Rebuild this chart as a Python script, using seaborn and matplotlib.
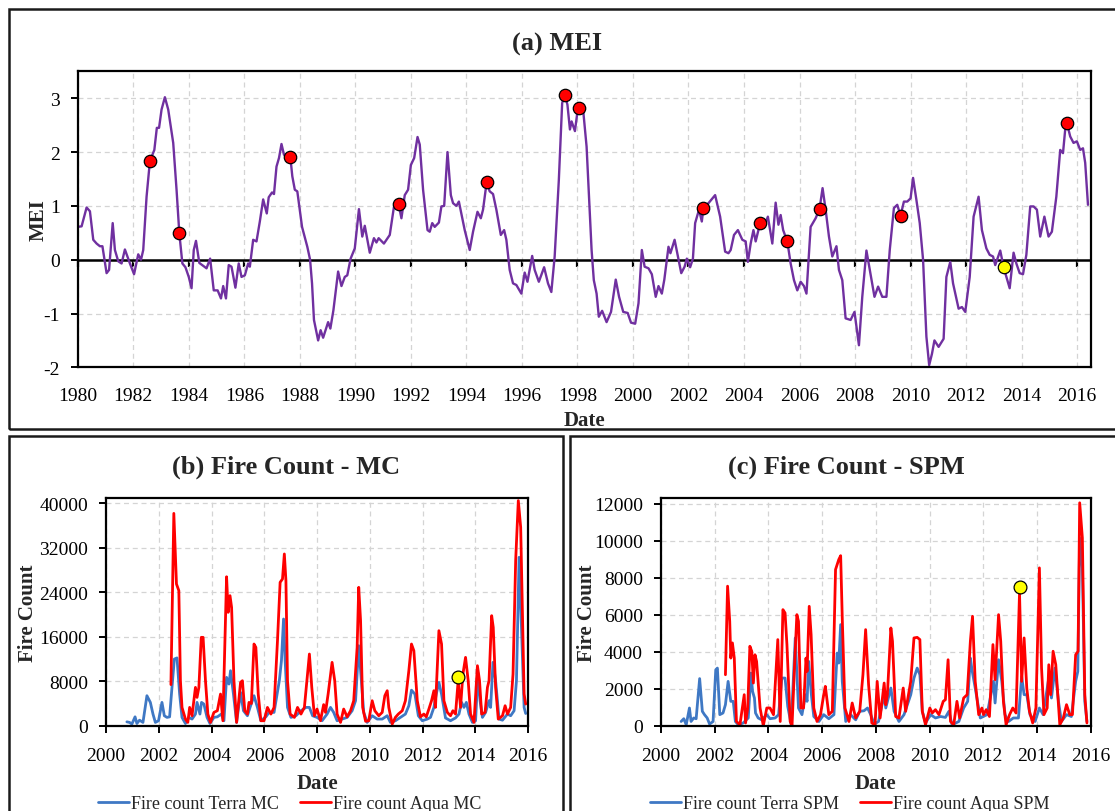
import numpy as np
import matplotlib
matplotlib.use('Agg')
import matplotlib.pyplot as plt
from matplotlib.patches import Rectangle
import seaborn as sns

# ============================================================================
# DATA
# ============================================================================

# (a) Multivariate ENSO Index
mei_year = [
    1980.00, 1980.14, 1980.32, 1980.44, 1980.56, 1980.68, 1980.80, 1980.89, 1981.04, 1981.13,
    1981.26, 1981.34, 1981.46, 1981.58, 1981.70, 1981.88, 1982.03, 1982.18, 1982.28, 1982.36,
    1982.48, 1982.60, 1982.76, 1982.85, 1982.93, 1983.02, 1983.14, 1983.26, 1983.44, 1983.56,
    1983.66, 1983.77, 1983.88, 1984.00, 1984.10, 1984.18, 1984.26, 1984.38, 1984.56, 1984.64,
    1984.77, 1984.90, 1985.04, 1985.16, 1985.24, 1985.34, 1985.44, 1985.54, 1985.68, 1985.80,
    1985.90, 1986.02, 1986.14, 1986.20, 1986.32, 1986.44, 1986.56, 1986.68, 1986.81, 1986.88,
    1987.00, 1987.07, 1987.16, 1987.25, 1987.34, 1987.43, 1987.55, 1987.66, 1987.73, 1987.82,
    1987.91, 1988.08, 1988.27, 1988.37, 1988.44, 1988.51, 1988.66, 1988.75, 1988.84, 1989.02,
    1989.10, 1989.21, 1989.38, 1989.50, 1989.62, 1989.71, 1989.83, 1989.98, 1990.13, 1990.25,
    1990.34, 1990.52, 1990.67, 1990.76, 1990.84, 1991.03, 1991.24, 1991.39, 1991.56, 1991.66,
    1991.78, 1991.90, 1992.00, 1992.12, 1992.24, 1992.32, 1992.44, 1992.60, 1992.68, 1992.77,
    1992.86, 1993.01, 1993.10, 1993.20, 1993.32, 1993.44, 1993.52, 1993.64, 1993.73, 1993.94,
    1994.12, 1994.24, 1994.40, 1994.52, 1994.60, 1994.73, 1994.84, 1994.96, 1995.08, 1995.24,
    1995.36, 1995.44, 1995.56, 1995.68, 1995.80, 1995.98, 1996.10, 1996.20, 1996.37, 1996.46,
    1996.61, 1996.80, 1996.94, 1997.06, 1997.18, 1997.33, 1997.45, 1997.55, 1997.64, 1997.73,
    1997.79, 1997.91, 1998.01, 1998.07, 1998.21, 1998.33, 1998.51, 1998.59, 1998.69, 1998.77,
    1998.89, 1999.05, 1999.21, 1999.38, 1999.50, 1999.65, 1999.81, 1999.93, 2000.08, 2000.20,
    2000.32, 2000.42, 2000.56, 2000.68, 2000.82, 2000.92, 2001.04, 2001.13, 2001.28, 2001.35,
    2001.50, 2001.62, 2001.74, 2001.86, 2001.94, 2002.06, 2002.16, 2002.24, 2002.38, 2002.48,
    2002.54, 2002.72, 2002.96, 2003.14, 2003.32, 2003.44, 2003.52, 2003.64, 2003.78, 2003.94,
    2004.06, 2004.14, 2004.24, 2004.34, 2004.42, 2004.58, 2004.72, 2004.86, 2005.02, 2005.14,
    2005.24, 2005.32, 2005.41, 2005.56, 2005.68, 2005.80, 2005.92, 2006.04, 2006.16, 2006.25,
    2006.40, 2006.58, 2006.72, 2006.83, 2006.94, 2007.06, 2007.18, 2007.33, 2007.42, 2007.54,
    2007.66, 2007.84, 2007.98, 2008.14, 2008.26, 2008.41, 2008.53, 2008.70, 2008.83, 2008.98,
    2009.13, 2009.25, 2009.40, 2009.52, 2009.64, 2009.76, 2009.88, 2010.00, 2010.09, 2010.21,
    2010.33, 2010.45, 2010.57, 2010.67, 2010.77, 2010.86, 2011.01, 2011.19, 2011.29, 2011.43,
    2011.53, 2011.73, 2011.85, 2011.97, 2012.13, 2012.27, 2012.45, 2012.57, 2012.73, 2012.85,
    2012.97, 2013.05, 2013.23, 2013.35, 2013.45, 2013.57, 2013.71, 2013.81, 2013.93, 2014.05,
    2014.17, 2014.31, 2014.43, 2014.55, 2014.67, 2014.82, 2014.97, 2015.09, 2015.25, 2015.39,
    2015.49, 2015.57, 2015.63, 2015.75, 2015.87, 2015.99, 2016.11, 2016.21, 2016.29, 2016.39,
]
mei_value = [
    0.61, 0.62, 0.97, 0.90, 0.37, 0.30, 0.25, 0.25, -0.25, -0.19,
    0.68, 0.18, -0.03, -0.07, 0.19, -0.07, -0.27, 0.10, 0.00, 0.18,
    1.17, 1.83, 2.04, 2.45, 2.45, 2.79, 3.02, 2.79, 2.17, 1.30,
    0.49, -0.07, -0.14, -0.32, -0.53, 0.18, 0.35, -0.06, -0.13, -0.16,
    0.02, -0.57, -0.57, -0.72, -0.49, -0.72, -0.10, -0.13, -0.52, -0.07,
    -0.32, -0.29, -0.07, -0.13, 0.37, 0.34, 0.71, 1.12, 0.86, 1.16,
    1.25, 1.22, 1.73, 1.89, 2.15, 1.95, 1.91, 1.90, 1.55, 1.30,
    1.27, 0.61, 0.24, 0.00, -0.44, -1.12, -1.50, -1.31, -1.45, -1.16,
    -1.28, -0.94, -0.22, -0.49, -0.32, -0.29, 0.02, 0.21, 0.94, 0.43,
    0.63, 0.13, 0.40, 0.32, 0.40, 0.30, 0.46, 0.98, 1.03, 0.77,
    1.20, 1.30, 1.76, 1.89, 2.28, 2.14, 1.30, 0.55, 0.52, 0.68,
    0.61, 0.69, 0.99, 1.00, 2.00, 1.20, 1.05, 1.00, 1.08, 0.55,
    0.18, 0.52, 0.89, 0.77, 0.93, 1.44, 1.27, 1.22, 0.93, 0.46,
    0.55, 0.37, -0.19, -0.44, -0.47, -0.63, -0.24, -0.41, 0.07, -0.19,
    -0.41, -0.14, -0.44, -0.60, 0.06, 1.48, 2.91, 3.06, 2.88, 2.42,
    2.57, 2.39, 2.79, 2.81, 2.76, 2.10, 0.18, -0.38, -0.63, -1.06,
    -0.95, -1.16, -0.97, -0.37, -0.69, -0.97, -0.99, -1.17, -1.19, -0.81,
    0.18, -0.13, -0.16, -0.27, -0.69, -0.49, -0.63, -0.37, 0.24, 0.12,
    0.37, 0.06, -0.25, -0.13, 0.02, -0.14, 0.02, 0.68, 0.93, 0.71,
    0.96, 1.05, 1.20, 0.80, 0.15, 0.12, 0.18, 0.46, 0.55, 0.37,
    0.34, -0.04, 0.30, 0.55, 0.34, 0.68, 0.61, 0.80, 0.30, 1.06,
    0.65, 0.83, 0.55, 0.34, -0.07, -0.38, -0.57, -0.41, -0.49, -0.63,
    0.61, 0.77, 0.94, 1.33, 0.93, 0.43, 0.06, 0.25, -0.19, -0.38,
    -1.09, -1.12, -0.97, -1.59, -0.69, 0.17, -0.19, -0.69, -0.50, -0.69,
    -0.69, 0.18, 0.96, 1.02, 0.82, 1.08, 1.08, 1.14, 1.52, 1.11,
    0.68, 0.00, -1.43, -1.96, -1.75, -1.50, -1.62, -1.47, -0.32, -0.04,
    -0.44, -0.91, -0.88, -0.97, -0.32, 0.80, 1.17, 0.55, 0.21, 0.09,
    0.06, -0.10, 0.17, -0.14, -0.32, -0.53, 0.13, -0.07, -0.25, -0.27,
    0.09, 0.99, 0.99, 0.93, 0.43, 0.80, 0.43, 0.52, 1.17, 2.04,
    1.98, 2.42, 2.54, 2.29, 2.17, 2.20, 2.04, 2.07, 1.80, 1.02,
]
mei_red_year = [1982.60, 1983.66, 1987.66, 1991.56, 1994.74, 1997.55, 1998.07,
                2002.54, 2004.58, 2005.56, 2006.72, 2009.64, 2015.63]
mei_red_value = [1.83, 0.49, 1.90, 1.03, 1.44, 3.06, 2.81,
                 0.96, 0.68, 0.34, 0.94, 0.82, 2.54]
mei_yellow_year = [2013.35]
mei_yellow_value = [-0.14]

# (b) Fire count - MC
mc_terra_year = [
    2000.79, 2000.89, 2000.98, 2001.10, 2001.17, 2001.27, 2001.40, 2001.55, 2001.68, 2001.78,
    2001.87, 2001.99, 2002.12, 2002.21, 2002.31, 2002.41, 2002.50, 2002.59, 2002.69, 2002.79,
    2002.88, 2003.01, 2003.14, 2003.26, 2003.39, 2003.45, 2003.56, 2003.62, 2003.71, 2003.83,
    2003.94, 2004.09, 2004.22, 2004.37, 2004.47, 2004.57, 2004.66, 2004.72, 2004.83, 2004.95,
    2005.10, 2005.21, 2005.36, 2005.46, 2005.61, 2005.74, 2005.87, 2006.06, 2006.18, 2006.37,
    2006.57, 2006.65, 2006.73, 2006.79, 2006.88, 2007.01, 2007.20, 2007.39, 2007.58, 2007.71,
    2007.83, 2008.00, 2008.19, 2008.38, 2008.51, 2008.63, 2008.76, 2008.95, 2009.14, 2009.33,
    2009.46, 2009.58, 2009.68, 2009.77, 2009.90, 2010.09, 2010.28, 2010.47, 2010.66, 2010.78,
    2010.97, 2011.16, 2011.35, 2011.48, 2011.58, 2011.71, 2011.84, 2011.99, 2012.18, 2012.30,
    2012.43, 2012.52, 2012.62, 2012.72, 2012.87, 2013.06, 2013.25, 2013.38, 2013.48, 2013.57,
    2013.66, 2013.76, 2013.89, 2014.01, 2014.10, 2014.18, 2014.27, 2014.39, 2014.52, 2014.58,
    2014.67, 2014.77, 2014.90, 2015.03, 2015.22, 2015.34, 2015.47, 2015.56, 2015.66, 2015.75,
    2015.85, 2015.91,
]
mc_terra = [
    700, 600, 300, 1600, 400, 1000, 600, 5400, 4200, 2100,
    600, 900, 4200, 1800, 1500, 1600, 6900, 12000, 12200, 5700,
    1500, 400, 1500, 1200, 2100, 4200, 2100, 4200, 3900, 1500,
    400, 1500, 1600, 2100, 900, 8700, 7500, 9900, 5700, 600,
    6000, 2700, 1800, 3300, 5400, 3300, 900, 1600, 2400, 2400,
    8100, 11700, 19200, 11700, 3300, 1500, 1800, 2700, 3300, 3300,
    1800, 1500, 900, 2100, 3300, 2400, 900, 1200, 1500, 2700,
    4500, 14400, 8100, 2400, 600, 1800, 1200, 1200, 1800, 600,
    900, 1500, 2100, 3600, 6400, 5700, 1800, 900, 1200, 1500,
    3300, 5700, 7800, 5700, 1400, 900, 1400, 2100, 4200, 3300,
    4200, 2100, 600, 900, 9500, 4500, 1500, 2400, 4500, 3300,
    11400, 8100, 1200, 1000, 2100, 1800, 2700, 8100, 30300, 17700,
    3300, 2200,
]
mc_aqua_year = [
    2002.46, 2002.57, 2002.67, 2002.76, 2002.82, 2002.88, 2003.01, 2003.10, 2003.17, 2003.26,
    2003.39, 2003.45, 2003.52, 2003.61, 2003.68, 2003.77, 2003.86, 2003.96, 2004.09, 2004.22,
    2004.34, 2004.43, 2004.57, 2004.63, 2004.70, 2004.76, 2004.85, 2004.95, 2005.10, 2005.17,
    2005.26, 2005.36, 2005.42, 2005.51, 2005.61, 2005.68, 2005.77, 2005.87, 2005.99, 2006.12,
    2006.25, 2006.37, 2006.50, 2006.60, 2006.69, 2006.76, 2006.82, 2006.88, 2006.98, 2007.14,
    2007.26, 2007.39, 2007.52, 2007.71, 2007.80, 2007.90, 2008.00, 2008.13, 2008.25, 2008.32,
    2008.42, 2008.57, 2008.67, 2008.76, 2008.89, 2009.01, 2009.14, 2009.27, 2009.39, 2009.52,
    2009.58, 2009.65, 2009.73, 2009.84, 2009.96, 2010.09, 2010.19, 2010.34, 2010.47, 2010.57,
    2010.66, 2010.72, 2010.85, 2010.97, 2011.08, 2011.23, 2011.35, 2011.48, 2011.58, 2011.67,
    2011.80, 2011.92, 2012.05, 2012.14, 2012.24, 2012.34, 2012.43, 2012.49, 2012.62, 2012.72,
    2012.81, 2012.94, 2013.06, 2013.15, 2013.25, 2013.35, 2013.44, 2013.53, 2013.63, 2013.73,
    2013.82, 2013.95, 2014.08, 2014.16, 2014.24, 2014.37, 2014.46, 2014.52, 2014.62, 2014.68,
    2014.77, 2014.87, 2015.03, 2015.13, 2015.22, 2015.34, 2015.43, 2015.53, 2015.63, 2015.72,
    2015.85, 2015.91,
]
mc_aqua = [
    7400, 38200, 25500, 24300, 8100, 3300, 1200, 600, 3300, 1800,
    6900, 5100, 6900, 15900, 15900, 8100, 2100, 600, 2400, 2700,
    5700, 900, 26800, 20400, 23400, 21300, 8100, 600, 7800, 8100,
    2700, 2100, 4200, 4000, 14700, 14100, 5700, 900, 900, 3300,
    2100, 3300, 15300, 25800, 26400, 30900, 26100, 8100, 2100, 1500,
    3300, 2100, 3300, 12900, 6900, 1800, 3000, 900, 3800, 2400,
    5700, 11400, 8100, 2100, 600, 3000, 1600, 2700, 4500, 14100,
    24900, 18900, 3300, 800, 900, 4500, 2700, 1800, 2400, 5400,
    6300, 3300, 300, 1500, 2100, 2700, 4500, 9900, 14700, 13500,
    4500, 1600, 2100, 1600, 3000, 4500, 6300, 3300, 17100, 14700,
    4500, 2400, 1800, 2700, 2100, 8100, 3300, 9300, 12300, 8100,
    2100, 600, 10800, 8100, 2100, 2400, 6900, 8100, 19800, 17700,
    6900, 1200, 1800, 3600, 2100, 3300, 9300, 29700, 40500, 35700,
    5700, 3900,
]
mc_yellow_year = [2013.35]
mc_yellow_value = [8800]

# (c) Fire count - SPM
spm_terra_year = [
    2000.75, 2000.85, 2000.94, 2001.06, 2001.12, 2001.22, 2001.31, 2001.44, 2001.54, 2001.62,
    2001.72, 2001.81, 2001.94, 2002.04, 2002.10, 2002.19, 2002.31, 2002.40, 2002.50, 2002.60,
    2002.69, 2002.77, 2002.88, 2003.06, 2003.25, 2003.35, 2003.41, 2003.48, 2003.52, 2003.62,
    2003.75, 2003.94, 2004.06, 2004.25, 2004.38, 2004.50, 2004.62, 2004.72, 2004.85, 2005.00,
    2005.12, 2005.25, 2005.38, 2005.44, 2005.50, 2005.60, 2005.69, 2005.88, 2006.06, 2006.25,
    2006.44, 2006.56, 2006.62, 2006.69, 2006.75, 2006.88, 2007.06, 2007.25, 2007.40, 2007.56,
    2007.69, 2007.81, 2007.94, 2008.10, 2008.31, 2008.37, 2008.56, 2008.68, 2008.86, 2009.05,
    2009.30, 2009.42, 2009.54, 2009.64, 2009.73, 2009.85, 2010.04, 2010.22, 2010.41, 2010.59,
    2010.72, 2010.84, 2011.09, 2011.27, 2011.42, 2011.52, 2011.58, 2011.70, 2011.89, 2012.14,
    2012.38, 2012.44, 2012.57, 2012.69, 2012.81, 2012.94, 2013.12, 2013.31, 2013.43, 2013.52,
    2013.62, 2013.74, 2013.93, 2014.09, 2014.23, 2014.42, 2014.54, 2014.67, 2014.80, 2014.91,
    2015.10, 2015.28, 2015.44, 2015.52, 2015.59, 2015.69, 2015.78, 2015.86,
]
spm_terra = [
    230, 380, 50, 960, 230, 420, 380, 2550, 780, 600,
    420, 90, 230, 3030, 3120, 600, 690, 1140, 2400, 1320,
    1320, 230, 50, 150, 420, 2850, 1860, 1500, 690, 420,
    320, 600, 380, 420, 600, 2580, 2580, 1050, 50, 4750,
    960, 600, 1680, 1320, 3480, 1680, 500, 230, 600, 380,
    600, 3930, 3390, 5470, 2400, 230, 600, 320, 780, 810,
    960, 600, 90, 230, 1680, 960, 2040, 780, 230, 600,
    1680, 2580, 3120, 2760, 780, 150, 600, 420, 500, 450,
    780, 50, 230, 960, 1320, 3660, 3030, 2040, 420, 600,
    2400, 1230, 3570, 2400, 600, 230, 420, 420, 2670, 1680,
    1680, 600, 230, 960, 600, 2400, 1500, 3120, 1320, 230,
    600, 500, 2400, 2940, 10160, 8540, 1320, 230,
]
spm_aqua_year = [
    2002.40, 2002.48, 2002.56, 2002.60, 2002.66, 2002.73, 2002.81, 2002.94, 2003.10, 2003.15,
    2003.23, 2003.31, 2003.38, 2003.44, 2003.50, 2003.56, 2003.69, 2003.81, 2003.94, 2004.06,
    2004.19, 2004.35, 2004.44, 2004.54, 2004.62, 2004.69, 2004.81, 2004.88, 2004.98, 2005.06,
    2005.12, 2005.21, 2005.31, 2005.40, 2005.44, 2005.52, 2005.59, 2005.69, 2005.81, 2005.94,
    2006.06, 2006.12, 2006.25, 2006.38, 2006.50, 2006.62, 2006.69, 2006.75, 2006.85, 2007.00,
    2007.12, 2007.25, 2007.40, 2007.52, 2007.62, 2007.73, 2007.85, 2007.97, 2008.05, 2008.16,
    2008.31, 2008.37, 2008.43, 2008.56, 2008.62, 2008.74, 2008.86, 2009.02, 2009.11, 2009.30,
    2009.42, 2009.54, 2009.64, 2009.73, 2009.85, 2010.01, 2010.10, 2010.22, 2010.35, 2010.51,
    2010.59, 2010.69, 2010.78, 2010.90, 2011.02, 2011.12, 2011.27, 2011.40, 2011.52, 2011.60,
    2011.70, 2011.83, 2011.95, 2012.01, 2012.11, 2012.23, 2012.36, 2012.44, 2012.57, 2012.65,
    2012.75, 2012.85, 2012.98, 2013.10, 2013.22, 2013.35, 2013.43, 2013.52, 2013.62, 2013.72,
    2013.84, 2013.96, 2014.09, 2014.17, 2014.26, 2014.38, 2014.44, 2014.51, 2014.60, 2014.70,
    2014.85, 2014.98, 2015.10, 2015.22, 2015.32, 2015.44, 2015.53, 2015.59, 2015.69, 2015.78,
    2015.86,
]
spm_aqua = [
    2760, 7550, 5650, 3660, 4480, 3660, 230, 50, 1680, 150,
    960, 4300, 4030, 2310, 3840, 3480, 960, 0, 960, 960,
    600, 4660, 230, 6280, 6100, 4390, 230, 0, 3480, 6010,
    5650, 960, 960, 3660, 2940, 6460, 4930, 960, 230, 600,
    1680, 2130, 600, 780, 8450, 8990, 9200, 5830, 960, 230,
    1230, 420, 780, 2760, 5200, 2220, 150, 50, 2400, 420,
    2310, 1140, 1680, 5290, 4570, 500, 420, 2040, 780, 2400,
    4750, 4780, 4660, 780, 50, 960, 690, 870, 600, 1320,
    1410, 3570, 230, 50, 1320, 420, 1500, 1680, 4570, 5920,
    2400, 600, 960, 600, 870, 500, 4390, 2490, 6010, 4570,
    1320, 50, 600, 960, 690, 7180, 2400, 4750, 2040, 780,
    150, 960, 8540, 3120, 600, 960, 3300, 1680, 4030, 3300,
    50, 420, 1140, 600, 600, 3840, 4030, 12060, 10160, 1680,
    150,
]
spm_yellow_year = [2013.35]
spm_yellow_value = [7490]

# ============================================================================
# STYLE
# ============================================================================

sns.set_theme(style='white')
plt.rcParams['font.family'] = ['Liberation Serif', 'DejaVu Serif']
plt.rcParams['axes.unicode_minus'] = False

PURPLE = '#7030a0'
BLUE = '#3f78c4'
RED = '#ff0000'
GRID = '#d4d4d4'
TICK_FS = 14
LABEL_FS = 15
TITLE_FS = 19

fig = plt.figure(figsize=(11.15, 8.12), dpi=100)


def style_axes(ax):
    for sp in ax.spines.values():
        sp.set_color('black')
        sp.set_linewidth(1.6)
    ax.grid(True, color=GRID, linestyle=(0, (4, 3)), linewidth=0.9)
    ax.set_axisbelow(True)
    ax.tick_params(axis='both', labelsize=TICK_FS, colors='black', width=1.4)
    ax.tick_params(axis='y', direction='out', length=5, pad=8, left=True)


def panel_box(x0, y0, w, h):
    fig.add_artist(Rectangle((x0, y0), w, h, transform=fig.transFigure,
                             fill=False, edgecolor='#1a1a1a', linewidth=1.8))


# ============================================================================
# (a) MEI
# ============================================================================

ax_a = fig.add_axes([0.0697, 0.5464, 0.9088, 0.3645])
style_axes(ax_a)
ax_a.axhline(0, color='black', linewidth=1.8, zorder=1.5)
sns.lineplot(x=mei_year, y=mei_value, ax=ax_a, color=PURPLE, linewidth=1.7,
             estimator=None, sort=False)
sns.scatterplot(x=mei_red_year, y=mei_red_value, ax=ax_a, color=RED, s=80,
                edgecolor='black', linewidth=0.9, zorder=5, legend=False)
sns.scatterplot(x=mei_yellow_year, y=mei_yellow_value, ax=ax_a, color='#ffff00', s=80,
                edgecolor='black', linewidth=0.9, zorder=5, legend=False)

ax_a.set_xlim(1980, 2016.5)
ax_a.set_ylim(-2, 3.5)
year_ticks = np.arange(1980, 2017, 2)
ax_a.set_xticks(year_ticks)
ax_a.set_yticks(np.arange(-2, 4, 1))
ax_a.tick_params(axis='x', length=0, pad=14)

# zero line carries the x tick marks
zero_pos = (0 - (-2)) / (3.5 - (-2))
sec = ax_a.secondary_xaxis(zero_pos)
sec.set_alignment('bottom')
sec.set_xticks(year_ticks)
sec.tick_params(axis='x', direction='out', length=5, width=1.6, colors='black',
                labelbottom=False, labeltop=False)
sec.spines['bottom'].set_visible(False)

ax_a.set_xlabel('Date', fontsize=LABEL_FS, fontweight='bold')
ax_a.xaxis.set_label_coords(0.5, -0.145)
ax_a.set_ylabel('MEI', fontsize=LABEL_FS, fontweight='bold')
ax_a.yaxis.set_label_coords(-0.029, 0.5)
fig.text(0.5, 0.945, '(a) MEI', ha='center', va='center',
         fontsize=TITLE_FS, fontweight='bold')

# ============================================================================
# (b) Fire Count - MC  /  (c) Fire Count - SPM
# ============================================================================

panels = [
    ([0.0951, 0.1050, 0.3785, 0.2800], mc_terra_year, mc_terra, mc_aqua_year, mc_aqua,
     mc_yellow_year, mc_yellow_value, 'MC', 40900, 8000, '(b) Fire Count - MC', 0.257,
     -0.162),
    ([0.5928, 0.1050, 0.3854, 0.2800], spm_terra_year, spm_terra, spm_aqua_year, spm_aqua,
     spm_yellow_year, spm_yellow_value, 'SPM', 12300, 2000, '(c) Fire Count - SPM', 0.759,
     -0.148),
]

for (rect, t_year, t_val, a_year, a_val, y_year, y_val, tag, ymax, ystep, title,
     cx, ylab_x) in panels:
    ax = fig.add_axes(rect)
    style_axes(ax)
    sns.lineplot(x=t_year, y=t_val, ax=ax, color=BLUE, linewidth=2.0,
                 estimator=None, sort=False, label=f'Fire count Terra {tag}')
    sns.lineplot(x=a_year, y=a_val, ax=ax, color=RED, linewidth=2.0,
                 estimator=None, sort=False, label=f'Fire count Aqua {tag}')
    sns.scatterplot(x=y_year, y=y_val, ax=ax, color='#ffff00', s=85,
                    edgecolor='black', linewidth=0.9, zorder=5, legend=False)
    ax.set_xlim(2000, 2016)
    ax.set_ylim(0, ymax)
    ax.set_xticks(np.arange(2000, 2017, 2))
    ax.set_yticks(np.arange(0, ymax, ystep))
    ax.tick_params(axis='x', direction='out', length=5, pad=10, bottom=True)
    ax.set_xlabel('Date', fontsize=LABEL_FS, fontweight='bold')
    ax.xaxis.set_label_coords(0.5, -0.21)
    ax.set_ylabel('Fire Count', fontsize=LABEL_FS, fontweight='bold')
    ax.yaxis.set_label_coords(ylab_x, 0.5)
    ax.legend(loc='center', bbox_to_anchor=(cx + 0.003, 0.009),
              bbox_transform=fig.transFigure, ncol=2, frameon=False, fontsize=13,
              handlelength=1.7, handletextpad=0.1, columnspacing=1.2,
              borderaxespad=0, borderpad=0)
    fig.text(cx, 0.425, title, ha='center', va='center',
             fontsize=TITLE_FS, fontweight='bold')

# panel frames
panel_box(0.0081, 0.4704, 1.05, 0.5173)
panel_box(0.0081, -0.05, 0.4968, 0.5118)
panel_box(0.5112, -0.05, 0.55, 0.5118)

fig.savefig('out.png', dpi=100)
